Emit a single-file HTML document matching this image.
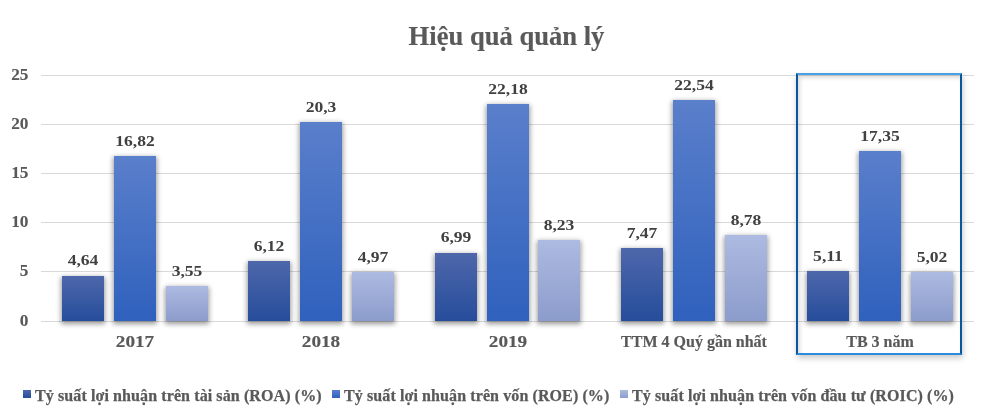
<!DOCTYPE html>
<html><head><meta charset="utf-8">
<style>
html,body{margin:0;padding:0;background:#fff;}
body{width:985px;height:413px;position:relative;overflow:hidden;font-family:"Liberation Serif",serif;font-weight:bold;}
.title{will-change:transform;-webkit-text-stroke:0.15px currentColor;position:absolute;left:13.5px;width:985px;top:21px;text-align:center;font-size:26.6px;color:#595959;line-height:30px;}
.grid{position:absolute;left:41px;width:933px;height:1px;background:#d9d9d9;}
.ylab{will-change:transform;-webkit-text-stroke:0.1px currentColor;position:absolute;left:0;width:28.5px;text-align:right;font-size:16px;line-height:16px;color:#595959;transform:scaleX(1.08);transform-origin:right center;}
.bar{position:absolute;width:42px;box-shadow:0 2px 5px 1px rgba(0,0,0,0.4);}
.s0{background:linear-gradient(#4e67ab,#264d9b);}
.s1{background:linear-gradient(#5a7fcb,#2f61bd);}
.s2{background:linear-gradient(#adbae1,#8c9ccb);}
.dl{will-change:transform;position:absolute;width:80px;text-align:center;font-size:15px;line-height:16px;color:#404040;transform:scaleX(1.17);}
.cl{will-change:transform;-webkit-text-stroke:0.15px currentColor;position:absolute;width:200px;top:334px;text-align:center;font-size:16px;line-height:16px;color:#595959;}
.box{position:absolute;left:796px;top:73px;width:162px;height:278px;border:2px solid #0b5699;border-top-color:#4aa0e4;border-bottom-color:#2a8ade;box-shadow:1px 3px 6px rgba(0,0,0,0.22), inset 2px 3px 4px rgba(0,0,0,0.14);}
.boxlab{will-change:transform;-webkit-text-stroke:0.15px currentColor;position:absolute;left:797px;width:166px;top:334px;text-align:center;font-size:16px;line-height:16px;color:#595959;}
.leg{will-change:transform;-webkit-text-stroke:0.25px currentColor;position:absolute;top:387.5px;font-size:16px;line-height:16px;color:#595959;white-space:nowrap;letter-spacing:0.1px;}
.sq{position:absolute;top:390px;width:8px;height:8px;}
</style></head><body>
<div class="title">Hiệu quả quản lý</div>
<div class="grid" style="top:321px"></div>
<div class="ylab" style="top:313.00px">0</div>
<div class="grid" style="top:271px"></div>
<div class="ylab" style="top:263.00px">5</div>
<div class="grid" style="top:222px"></div>
<div class="ylab" style="top:214.00px">10</div>
<div class="grid" style="top:173px"></div>
<div class="ylab" style="top:165.00px">15</div>
<div class="grid" style="top:124px"></div>
<div class="ylab" style="top:116.00px">20</div>
<div class="grid" style="top:75px"></div>
<div class="ylab" style="top:67.00px">25</div>
<div class="bar s0" style="left:62.23px;top:275.53px;height:45.47px"></div>
<div class="dl" style="left:43.23px;top:252.43px">4,64</div>
<div class="bar s1" style="left:114.03px;top:156.16px;height:164.84px"></div>
<div class="dl" style="left:95.03px;top:133.06px">16,82</div>
<div class="bar s2" style="left:165.82px;top:286.21px;height:34.79px"></div>
<div class="dl" style="left:146.82px;top:263.11px">3,55</div>
<div class="cl" style="left:35.03px;transform:scaleX(1.2)">2017</div>
<div class="bar s0" style="left:248.47px;top:261.02px;height:59.98px"></div>
<div class="dl" style="left:229.47px;top:237.92px">6,12</div>
<div class="bar s1" style="left:300.27px;top:122.06px;height:198.94px"></div>
<div class="dl" style="left:281.27px;top:98.96px">20,3</div>
<div class="bar s2" style="left:352.07px;top:272.29px;height:48.71px"></div>
<div class="dl" style="left:333.07px;top:249.19px">4,97</div>
<div class="cl" style="left:221.27px;transform:scaleX(1.2)">2018</div>
<div class="bar s0" style="left:434.72px;top:252.50px;height:68.50px"></div>
<div class="dl" style="left:415.72px;top:229.40px">6,99</div>
<div class="bar s1" style="left:486.52px;top:103.64px;height:217.36px"></div>
<div class="dl" style="left:467.52px;top:80.54px">22,18</div>
<div class="bar s2" style="left:538.32px;top:240.35px;height:80.65px"></div>
<div class="dl" style="left:519.32px;top:217.25px">8,23</div>
<div class="cl" style="left:407.52px;transform:scaleX(1.2)">2019</div>
<div class="bar s0" style="left:620.98px;top:247.79px;height:73.21px"></div>
<div class="dl" style="left:601.98px;top:224.69px">7,47</div>
<div class="bar s1" style="left:672.77px;top:100.11px;height:220.89px"></div>
<div class="dl" style="left:653.77px;top:77.01px">22,54</div>
<div class="bar s2" style="left:724.57px;top:234.96px;height:86.04px"></div>
<div class="dl" style="left:705.57px;top:211.86px">8,78</div>
<div class="cl" style="left:594.48px;">TTM 4 Quý gần nhất</div>
<div class="bar s0" style="left:807.23px;top:270.92px;height:50.08px"></div>
<div class="dl" style="left:788.23px;top:247.82px">5,11</div>
<div class="bar s1" style="left:859.02px;top:150.97px;height:170.03px"></div>
<div class="dl" style="left:840.02px;top:127.87px">17,35</div>
<div class="bar s2" style="left:910.82px;top:271.80px;height:49.20px"></div>
<div class="dl" style="left:891.82px;top:248.70px">5,02</div>
<div class="box"></div>
<div class="boxlab">TB 3 năm</div>
<div class="sq s0" style="left:23px"></div>
<div class="leg" style="left:35px">Tỷ suất lợi nhuận trên tài sản (ROA) (%)</div>
<div class="sq s1" style="left:332px"></div>
<div class="leg" style="left:344px">Tỷ suất lợi nhuận trên vốn (ROE) (%)</div>
<div class="sq s2" style="left:620px"></div>
<div class="leg" style="left:632px">Tỷ suất lợi nhuận trên vốn đầu tư (ROIC) (%)</div>
</body></html>
